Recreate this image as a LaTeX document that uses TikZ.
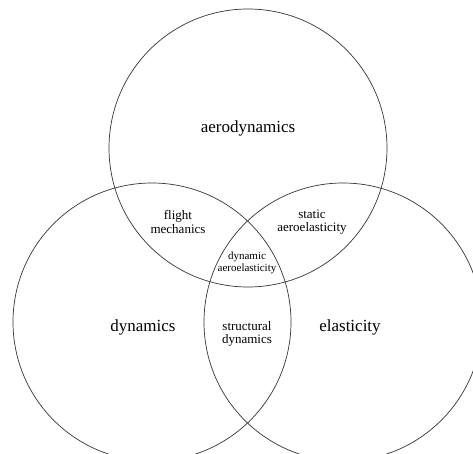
\documentclass[tikz,border=0pt]{standalone}
\usepackage{fontspec}
\setmainfont{Liberation Serif}
\begin{document}
\begin{tikzpicture}[x=1pt,y=-1pt,
  venn/.style={circle,draw=black!80,line width=0.7pt,minimum size=278pt,inner sep=0pt},
  big/.style={font=\fontsize{17}{19}\selectfont},
  mid/.style={align=center,font=\fontsize{13}{13.5}\selectfont},
  small/.style={align=center,font=\fontsize{11}{11.7}\selectfont}]
\useasboundingbox (0,0) rectangle (473,454);
\clip (0,0) rectangle (473,454);
\node[venn] (aero) at (248,148) {};
\node[venn] (dyn) at (152,322) {};
\node[venn] (ela) at (343,322) {};
\node[big] (taero) at (248,128) {aerodynamics};
\node[big] (tdyn) at (143,327) {dynamics};
\node[big] (tela) at (350,327) {elasticity};
\node[mid] (tfm) at (178,222) {flight\\mechanics};
\node[mid] (tsa) at (312,222) {static\\aeroelasticity};
\node[small] (tda) at (247,263) {dynamic\\aeroelasticity};
\node[mid] (tsd) at (247,334) {structural\\dynamics};
\end{tikzpicture}
\end{document}
